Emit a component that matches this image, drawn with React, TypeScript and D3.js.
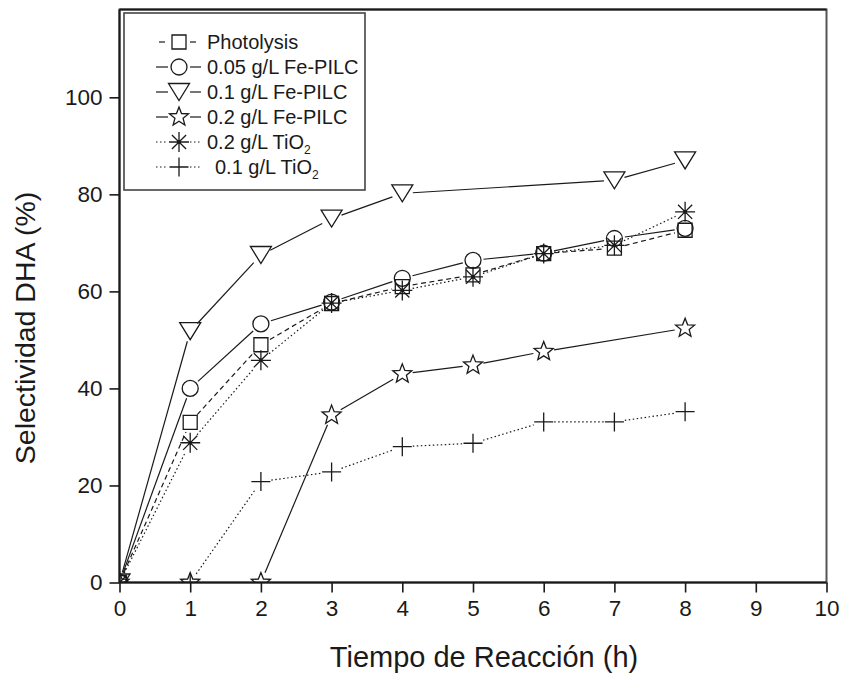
import * as d3 from 'd3';
import { useEffect, useRef } from 'react';

// reaction time (h)
const times = [0, 1, 2, 3, 4, 5, 6, 7, 8];
// selectivity DHA (%) per series; null = no point at that time
const photolysis = [0, 33, 49, 57.5, 61, 63.4, 67.8, 68.9, 72.6];
const fePilc005 = [0, 40, 53.3, 57.8, 62.7, 66.4, 67.9, 70.9, 73];
const fePilc01 = [0, 51.8, 67.5, 75, 80.2, null, null, 82.9, 87];
const fePilc02 = [0, 0, 0, 34.5, 43, 44.8, 47.6, null, 52.4];
const tio2_02 = [0, 28.8, 45.8, 57.6, 60.2, 63, 67.8, 69.5, 76.4];
const tio2_01 = [0, 0, 20.8, 22.8, 28, 28.7, 33.1, 33.1, 35.2];

const labels = ['Photolysis', '0.05 g/L Fe-PILC', '0.1 g/L Fe-PILC', '0.2 g/L Fe-PILC', '0.2 g/L TiO2', '0.1 g/L TiO2'];
const xTicks = [0, 1, 2, 3, 4, 5, 6, 7, 8, 9, 10];
const yTicks = [0, 20, 40, 60, 80, 100];

const series = [
  { label: labels[0], values: photolysis, marker: 'square', dash: '5,3.5' },
  { label: labels[1], values: fePilc005, marker: 'circle', dash: null },
  { label: labels[2], values: fePilc01, marker: 'triangle', dash: null },
  { label: labels[3], values: fePilc02, marker: 'star', dash: null },
  { label: labels[4], values: tio2_02, marker: 'asterisk', dash: '1.5,2.5' },
  { label: labels[5], values: tio2_01, marker: 'plus', dash: '1.5,2.5' },
];

const W = 843, H = 685;
const left = 119.5, right = 826.5, top = 9.5, bottom = 582.5;
const font = '"Liberation Sans", Arial, Helvetica, sans-serif';
const ink = '#1a1a1a';

const x = d3.scaleLinear().domain([0, 10]).range([left, right]);
const y = d3.scaleLinear().domain([0, 118.1]).range([bottom, top]);

function starPath(R: number, r: number) {
  const pts: [number, number][] = [];
  for (let i = 0; i < 10; i++) {
    const a = -Math.PI / 2 + i * Math.PI / 5;
    const rr = i % 2 === 0 ? R : r;
    pts.push([rr * Math.cos(a), rr * Math.sin(a)]);
  }
  return 'M' + pts.map(p => p.map(v => v.toFixed(2)).join(',')).join('L') + 'Z';
}

function markerPath(kind: string) {
  switch (kind) {
    case 'square': return 'M-7,-7H7V7H-7Z';
    case 'circle': return 'M8,0A8,8 0 1,1 -8,0A8,8 0 1,1 8,0Z';
    case 'triangle': return 'M-10.5,-8.5L10.5,-8.5L0,8.5Z';
    case 'star': return starPath(10, 4.3);
    case 'asterisk': {
      let p = '';
      for (let i = 0; i < 4; i++) {
        const a = i * Math.PI / 4;
        const c = Math.cos(a) * 10, s = Math.sin(a) * 10;
        p += `M${(-c).toFixed(2)},${(-s).toFixed(2)}L${c.toFixed(2)},${s.toFixed(2)}`;
      }
      return p;
    }
    default: return 'M-9.5,0H9.5M0,-9.5V9.5';
  }
}

// segments shortened at both ends so the line stops short of the markers
function gapped(pts: [number, number][], gap: number) {
  const segs: [number, number][][] = [];
  for (let i = 0; i < pts.length - 1; i++) {
    const [x0, y0] = pts[i], [x1, y1] = pts[i + 1];
    const dx = x1 - x0, dy = y1 - y0, len = Math.hypot(dx, dy);
    if (len <= 2 * gap) continue;
    const ux = dx / len, uy = dy / len;
    segs.push([[x0 + ux * gap, y0 + uy * gap], [x1 - ux * gap, y1 - uy * gap]]);
  }
  return segs;
}

function Label({ text, ...rest }: any) {
  const sub = text.endsWith('TiO2');
  return (
    <text {...rest}>
      {sub ? text.slice(0, -1) : text}
      {sub && <tspan fontSize="12" dy="5">2</tspan>}
    </text>
  );
}

export default function App() {
  const axRef = useRef<SVGGElement>(null);

  useEffect(() => {
    const g = d3.select(axRef.current);
    g.selectAll('*').remove();
    const gx = g.append('g').attr('transform', `translate(0,${bottom})`)
      .call(d3.axisBottom(x).tickValues(xTicks).tickSize(10).tickSizeOuter(0).tickPadding(8).tickFormat(d3.format('d')));
    const gy = g.append('g').attr('transform', `translate(${left},0)`)
      .call(d3.axisLeft(y).tickValues(yTicks).tickSize(10).tickSizeOuter(0).tickPadding(7).tickFormat(d3.format('d')));
    [gx, gy].forEach(a => {
      a.select('.domain').remove();
      a.selectAll('line').attr('stroke', ink).attr('stroke-width', 1.6);
      a.selectAll('text').attr('fill', ink).style('font-family', font).style('font-size', '22.5px');
    });
  }, []);

  const legendY = d3.scaleLinear().domain([0, 5]).range([42, 167]);

  return (
    <svg width={W} height={H} style={{ position: 'absolute', left: 0, top: 0, background: '#fff' }}>
      <defs>
        <clipPath id="plot"><rect x={left} y={top} width={right - left} height={bottom - top} /></clipPath>
      </defs>
      <rect x={left} y={top} width={right - left} height={bottom - top} fill="none" stroke="#555" strokeWidth={2} />
      <line x1={left} x2={right} y1={top} y2={top} stroke={ink} strokeWidth={2} />
      <line x1={left} x2={left} y1={top} y2={bottom} stroke={ink} strokeWidth={2} />
      <line x1={left} x2={right} y1={bottom} y2={bottom} stroke={ink} strokeWidth={2} />
      <g ref={axRef} />

      <g clipPath="url(#plot)">
        {series.map((s, si) => {
          const pts = times
            .map((t, i) => [t, s.values[i]] as [number, number | null])
            .filter(d => d[1] != null)
            .map(d => [x(d[0]), y(d[1] as number)] as [number, number]);
          return (
            <g key={si}>
              {gapped(pts, 10.5).map((seg, k) => (
                <path key={k} d={d3.line()(seg) as string} fill="none" stroke={ink} strokeWidth={1.2}
                  strokeDasharray={s.dash ?? undefined} />
              ))}
              {pts.map((p, k) => (
                <g key={'m' + k} transform={`translate(${p[0]},${p[1]})`}>
                  <path d={markerPath(s.marker)} fill="none" stroke={ink} strokeWidth={1.3} />
                  {s.marker === 'asterisk' && <circle r={1.8} fill={ink} />}
                </g>
              ))}
            </g>
          );
        })}
      </g>

      <rect x={124} y={13} width={241} height={177} fill="#fff" stroke="#444" strokeWidth={1.6} />
      {series.map((s, i) => {
        const ly = legendY(i);
        const legDash = s.dash === '5,3.5' ? '6,20' : s.dash ?? undefined;
        return (
          <g key={'l' + i}>
            <line x1={i === 0 ? 159 : 156} x2={168} y1={ly} y2={ly} stroke={ink} strokeWidth={1.2} strokeDasharray={legDash} />
            <line x1={190} x2={201} y1={ly} y2={ly} stroke={ink} strokeWidth={1.2} strokeDasharray={legDash} />
            <g transform={`translate(179,${ly})`}>
              <path d={markerPath(s.marker)} fill="none" stroke={ink} strokeWidth={1.3} />
              {s.marker === 'asterisk' && <circle r={1.8} fill={ink} />}
            </g>
            <Label text={s.label} x={i === 5 ? 215 : 207} y={ly} dy="0.35em" fill={ink}
              style={{ fontFamily: font, fontSize: 20 }} />
          </g>
        );
      })}

      <text transform={`translate(35,${(top + bottom) / 2 + 32}) rotate(-90)`} textAnchor="middle" fill={ink}
        style={{ fontFamily: font, fontSize: 28.5 }}>Selectividad DHA (%)</text>
      <text x={(left + right) / 2 + 11} y={667} textAnchor="middle" fill={ink}
        style={{ fontFamily: font, fontSize: 29 }}>Tiempo de Reacción (h)</text>
    </svg>
  );
}
